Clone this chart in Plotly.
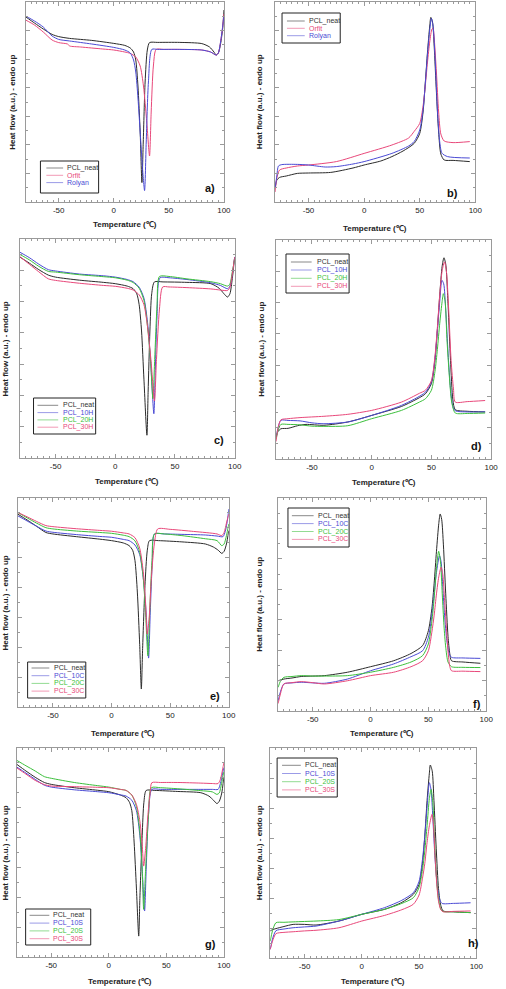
import plotly.graph_objects as go

W, H = 506, 989

# ---------------- data: (temperature degC, heat flow a.u. normalised 0-100) ----------------
# a) cooling, commercial
a_neat = [(-80,92.6),(-72,89.5),(-64,86.5),(-56,83.8),(-50,82.7),(-40,81.8),(-20,80.8),(0,79.3),(10,78.3),(15,77),(18,75),(20,71),(22,58),(24,35),(25.6,9.7),(26.8,30),(28.5,60),(30.5,76),(32.5,79.7),(40,79.8),(60,79.8),(80,79.2),(87,77.5),(91,75),(93,73.5),(95,74.5),(97,79),(99,87),(100,96)]
a_orfit = [(-80,91),(-72,88.5),(-64,85),(-56,81),(-50,79.7),(-42,79),(-40,78),(-30,77.5),(-10,76.5),(0,76),(10,75),(15,74.3),(20,72.5),(24,68),(27,58),(30,40),(32.5,23),(34,45),(36,68),(38.5,76.3),(45,76.3),(60,76.3),(80,76),(88,75),(93,73.5),(95,74.5),(97,80),(99,88),(100,94)]
a_rolyan = [(-80,93),(-72,90.5),(-64,87.5),(-56,83),(-50,81.3),(-40,80.5),(-20,79),(0,77.3),(10,76),(15,74.5),(18,71),(20,65),(22,52),(24,35),(26,18),(28,5.7),(29.5,30),(31.5,60),(34.6,76.3),(40,76.3),(60,76.3),(80,76),(88,75),(93,73.5),(95,74.5),(97,80),(99,88),(100,93)]

# b) heating, commercial
b_neat = [(-80,7),(-78.5,11),(-76,12.3),(-70,13),(-60,14.3),(-50,14.5),(-30,14.8),(-10,17),(0,18.5),(15,20.5),(25,22.7),(35,25.5),(45,29.3),(50,34.3),(53,45),(55,59.5),(57,75),(59,88),(60,92.3),(61.5,90),(63,78),(65,55),(67,35),(69,24),(72,21),(80,20.8),(95,20.2)]
b_orfit = [(-80,5),(-78.5,12),(-76,16),(-70,17),(-60,18),(-50,18.5),(-25,20.2),(0,24.3),(25,28.5),(40,32),(45,35.3),(50,39.3),(53,48),(55,58),(57,70),(59,80),(61,86.5),(62,86.8),(63,82),(65,65),(67,45),(69,34),(72,30.5),(80,29.7),(95,30.2)]
b_rolyan = [(-80,7),(-78.5,13),(-77,18),(-74,18.7),(-60,18.8),(-50,18.5),(-35,17.5),(-25,17.7),(-10,19),(0,20.2),(25,24.3),(40,28),(45,30.2),(50,36),(53,46),(55,59),(57,74),(59,86),(60.5,91.8),(62,88),(64,70),(66,45),(68,30),(70,24.4),(75,22.7),(95,22)]

# c) cooling, H series
c_neat = [(-80,91.8),(-72,89),(-64,86),(-56,83.5),(-50,82.6),(-30,81.2),(-10,80.2),(0,79.6),(10,78.5),(15,77.3),(18,75),(20,70),(22,58),(24,36),(26.5,10.4),(27.5,30),(29,58),(30.5,75),(32.8,80.4),(40,80.4),(60,80.2),(80,79.6),(87,77.5),(91,75),(94,73.5),(96,75),(98,82),(100,91.8)]
c_10h = [(-80,94),(-72,91.5),(-64,88.5),(-56,86),(-50,85.4),(-30,84),(-10,83.2),(0,82.6),(10,81.5),(15,80.5),(20,78),(24,73),(27,62),(29.5,45),(32.3,20.2),(33.5,40),(35,65),(37.5,82.3),(45,82.3),(60,81.5),(80,80),(88,78.8),(94,77.3),(96,78.5),(98,84),(100,91.8)]
c_20h = [(-80,93),(-72,90.5),(-64,87.5),(-56,85.2),(-50,84.9),(-30,83.7),(-10,82.8),(0,82.3),(10,81.2),(15,80.1),(20,77.5),(24,72),(27,60),(29.5,45),(31.5,27.1),(33,45),(35,70),(37,82.9),(45,82.9),(60,81.8),(80,80.5),(88,79.6),(94,78.5),(96,79.5),(98,85),(100,91)]
c_30h = [(-80,92),(-72,88.5),(-64,85),(-56,81.8),(-50,81.1),(-30,79.8),(-10,78.8),(0,78.4),(10,77.5),(15,76.7),(20,74.5),(24,70),(27,60),(30,44),(32.8,26),(34.5,45),(37,68),(39.7,78.1),(45,78.1),(60,77.8),(80,77.2),(88,76.7),(94,76.5),(96,78),(98,84),(100,91.8)]

# d) heating, H series
d_neat = [(-80,10),(-78.5,12.5),(-76,13.8),(-70,14),(-62,15.2),(-55,15.8),(-40,15.4),(-20,16.9),(0,19.9),(25,24),(40,28),(45,29.8),(50,34.4),(53,45),(55,58.8),(57,75),(59,88),(60.5,91.9),(62,89),(64,70),(66,45),(68,27),(70,22.5),(80,21.8),(95,21.5)]
d_10h = [(-80,10),(-78.5,14),(-76,17.7),(-70,17.6),(-60,17.4),(-50,16.5),(-40,16.1),(-20,16.9),(0,19.9),(25,24.5),(45,30.5),(50,35.3),(53,46),(55,58.8),(57,72),(58.8,81.6),(60.3,80),(62,68),(64,48),(66,32),(68,24),(70,22),(80,21.5),(95,21.5)]
d_20h = [(-80,9),(-78.5,13),(-76,15.8),(-70,15.8),(-60,15.6),(-50,15),(-40,14.9),(-20,15.2),(0,18.4),(25,22.2),(40,26),(45,27.5),(50,31.4),(53,40),(55,50),(57,62),(59,72),(60,75.5),(61.5,72),(63,55),(65,38),(67,26),(70,21),(80,20.8),(95,21)]
d_30h = [(-80,8),(-78.5,14),(-76,17.9),(-70,18.4),(-60,18.9),(-40,19.5),(-20,20.4),(0,22.2),(25,26),(40,30),(45,31.4),(50,35.8),(53,47),(55,60),(57,75),(59,86),(61,90),(62.5,86),(64.5,68),(66.5,45),(68.5,32),(70,26),(80,26.2),(95,26.7)]

# e) cooling, C series
e_neat = [(-80,92.3),(-72,89.5),(-64,86.5),(-56,83.5),(-50,82.8),(-30,81.5),(-10,80.3),(0,79.6),(10,78.5),(15,77.2),(18,75),(20,70),(22,55),(24,30),(25.4,8.6),(26.5,28),(28.5,58),(30.5,75),(32.4,79.6),(40,79.6),(60,79),(80,78),(87,76.5),(91,75),(94,73.5),(96,74.5),(98,78),(100,84.4)]
e_10c = [(-80,91.5),(-72,89),(-64,86.5),(-56,84.2),(-50,83.6),(-30,82.5),(-10,81.6),(0,81.2),(10,80.2),(15,79.6),(20,77.5),(24,73),(27,62),(29.5,45),(31.6,23.4),(33,45),(34.8,70),(36.6,82.8),(45,82.8),(60,82.6),(80,82.3),(90,81.8),(95,81.5),(97,84),(99,90),(100,94.7)]
e_20c = [(-80,93.1),(-72,90.5),(-64,88),(-56,85.8),(-50,85.2),(-30,84.2),(-10,83.5),(0,83.1),(10,82.2),(15,81.5),(20,79.5),(24,74),(27,62),(29,45),(31,24.5),(32.5,45),(34.5,70),(36.6,82.8),(45,82.8),(60,82),(80,80.5),(90,79.6),(94,77.2),(96,78),(98,82),(100,87.6)]
e_30c = [(-80,93.1),(-72,91),(-64,88.8),(-56,86.8),(-50,86.3),(-30,85.3),(-10,84.5),(0,84.1),(10,83.3),(15,82.8),(20,81),(24,76),(27,65),(29,50),(30.4,34.9),(32,42),(34,62),(36.5,78),(39.4,85.2),(50,85),(70,84),(90,82.8),(94,82),(96,83.5),(98,88),(100,92.3)]

# f) heating, C series
f_neat = [(-80,14.2),(-75,15),(-68,15.5),(-60,16.2),(-50,16.4),(-40,16.6),(-20,18.2),(0,20.8),(20,23.6),(35,27),(45,30.7),(50,37.7),(53,48),(55,60),(57,75),(59,88),(60.2,92.5),(61.5,90),(63,78),(65,55),(67,35),(68.5,27),(70,23.6),(80,23),(95,22.4)]
f_10c = [(-80,4.8),(-78,9),(-75,12.7),(-68,13.2),(-60,13.5),(-50,13.2),(-40,13),(-20,15),(0,18.9),(20,22.1),(35,25.5),(45,28.3),(50,34.6),(53,45),(55,55),(57,65),(59.6,72.9),(61,70),(62.5,58),(64,45),(66,33),(68,27),(70,25.2),(80,24.9),(95,24.7)]
f_20c = [(-80,11.1),(-78,14),(-75,15.8),(-68,16.2),(-60,16.6),(-50,16.4),(-40,16.4),(-20,16.6),(0,18.2),(20,20.5),(35,23),(45,26),(50,31.5),(53,42),(55,53),(57,67),(58.9,75),(60.5,70),(62,55),(63.5,40),(65,30),(67,23),(70,20.8),(80,20.5),(95,20.4)]
f_30c = [(-80,3.5),(-78,8),(-75,12.7),(-68,13.3),(-60,13.8),(-50,13.3),(-40,12.7),(-20,14.2),(0,16.6),(20,18.2),(35,20.8),(45,23.6),(50,28.3),(53,37),(55,45),(57,55),(59,63),(61,67.5),(62.5,64),(64,52),(65.5,40),(67,28),(68.5,21),(70,18.9),(80,18.7),(95,18.5)]

# g) cooling, S series
g_neat = [(-80,92.2),(-72,89),(-64,86),(-56,83.5),(-50,82.6),(-30,81),(-10,79.8),(0,79.1),(10,77.5),(15,76.2),(18,74),(20,70),(22,55),(24,33),(26,10),(27,28),(29,58),(30.5,74),(32.5,79.7),(40,79.7),(60,79.2),(80,78.6),(87,77),(91,75),(94,73.4),(96,74.5),(98,78),(100,85.8)]
g_10s = [(-80,90.9),(-72,88),(-64,85),(-56,82.2),(-50,81.3),(-30,80),(-10,79.1),(0,78.6),(10,77.6),(15,77),(20,75),(24,70),(27,58),(29,42),(31.1,22),(32.5,42),(34.5,68),(37.4,80.2),(45,80.2),(60,80.2),(80,80.2),(90,80.2),(95,80.2),(97,83),(99,88),(100,90.6)]
g_20s = [(-80,94.1),(-72,91.5),(-64,89),(-56,86.3),(-50,85.5),(-30,83.5),(-10,82),(0,81.3),(10,80.2),(15,79.7),(20,77.5),(24,72),(27,60),(29,42),(30.3,22.8),(32,42),(34.5,68),(37,81),(45,81),(60,80.5),(80,79.6),(90,79),(94,77.8),(96,78.5),(98,83),(100,88.6)]
g_30s = [(-80,90.5),(-72,87.5),(-64,84.5),(-56,82.5),(-50,81.8),(-30,81.5),(-10,81.2),(0,81),(10,80.2),(15,79.7),(20,77.5),(24,73),(27,65),(29,54),(30.3,43.5),(32,52),(34,68),(36,79),(37.4,83.4),(45,83.5),(60,83.5),(80,83.2),(90,83),(95,83),(97,85),(99,90),(100,93)]

# h) heating, S series
h_neat = [(-80,12.9),(-78,13.5),(-75,14),(-68,15),(-60,16),(-50,16),(-40,15.7),(-20,17.6),(0,20.8),(20,23.2),(35,26.5),(45,30.3),(50,35),(53,45),(55,58),(57,75),(59,88),(59.8,91.9),(61.5,89),(63,75),(65,52),(67,33),(69,25),(71,22.4),(80,22),(95,21.6)]
h_10s = [(-80,4.1),(-78,9),(-75,13),(-68,13.8),(-60,14.4),(-50,14.8),(-40,15.2),(-20,17.6),(0,20.8),(20,24),(35,27.5),(45,31.1),(50,36.5),(53,47),(55,58),(57,72),(59,83.5),(60.5,80),(62,67),(64,47),(66,34),(68,28),(70,26),(80,26),(95,26.3)]
h_20s = [(-80,8),(-78,13),(-75,16.8),(-68,17),(-60,17.2),(-50,17.4),(-40,17.6),(-20,18.3),(0,20.8),(20,23.2),(35,26),(45,28.7),(50,33.6),(53,42),(55,51),(57,63),(59,76),(60.5,80.3),(62,74),(63.5,56),(65,40),(67,28),(70,22.4),(80,22),(95,21.6)]
h_30s = [(-80,4.1),(-78,8),(-75,11.6),(-68,12.2),(-60,12.5),(-50,12.9),(-40,13.2),(-20,14.4),(0,17.6),(20,20.3),(35,23),(45,25.6),(50,30),(53,38),(55,45),(57,55),(59,63),(61.3,68.4),(62.5,64),(64,48),(65.5,35),(67,27),(69,23),(71,22),(80,22.2),(95,22.4)]

x_tickvals = [-50, 0, 50, 100]
x_ticktext = ["-50", "0", "50", "100"]
x_title = "Temperature (\u2103)"
y_title = "Heat flow (a.u.) - endo up"

NEAT = "#2b2b2b"; BLUE = "#4a4ad4"; GREEN = "#3cbf3c"; PINK = "#e8487a"
TXT_NEAT = "#333333"

# ---------------- layout of panels (pixel geometry) ----------------
panels = [
    dict(letter="a)", box=(26, 2, 227, 202),
         series=[("PCL_neat", a_neat, NEAT), ("Orfit", a_orfit, PINK), ("Rolyan", a_rolyan, BLUE)],
         leg=(41, 161, 100, 193), rows=[168, 175.3, 182.6], lx=(47, 64), tx=66,
         lpos=(213, 188), xt_y=225, yt_x=12),
    dict(letter="b)", box=(279, 2, 482, 202),
         series=[("PCL_neat", b_neat, NEAT), ("Orfit", b_orfit, PINK), ("Rolyan", b_rolyan, BLUE)],
         leg=(286, 13, 345, 43), rows=[21, 28.3, 35.7], lx=(291, 309), tx=311,
         lpos=(459, 193), xt_y=228, yt_x=263),
    dict(letter="c)", box=(20, 239, 238, 458),
         series=[("PCL_neat", c_neat, NEAT), ("PCL_10H", c_10h, BLUE), ("PCL_20H", c_20h, GREEN), ("PCL_30H", c_30h, PINK)],
         leg=(34, 398, 97, 434), rows=[405.3, 412.6, 419.9, 427.2], lx=(38, 59), tx=62,
         lpos=(222, 440), xt_y=481, yt_x=6),
    dict(letter="d)", box=(280, 240, 498, 459),
         series=[("PCL_neat", d_neat, NEAT), ("PCL_10H", d_10h, BLUE), ("PCL_20H", d_20h, GREEN), ("PCL_30H", d_30h, PINK)],
         leg=(290, 254, 354, 293), rows=[262, 270, 278.3, 286.3], lx=(295, 316), tx=319,
         lpos=(483, 446), xt_y=482, yt_x=265),
    dict(letter="e)", box=(18, 498, 232, 707),
         series=[("PCL_neat", e_neat, NEAT), ("PCL_10C", e_10c, BLUE), ("PCL_20C", e_20c, GREEN), ("PCL_30C", e_30c, PINK)],
         leg=(28, 662, 87, 698), rows=[668, 675.7, 683.4, 691.1], lx=(32, 50), tx=53,
         lpos=(218, 696), xt_y=733, yt_x=6),
    dict(letter="f)", box=(282, 498, 493, 711),
         series=[("PCL_neat", f_neat, NEAT), ("PCL_10C", f_10c, BLUE), ("PCL_20C", f_20c, GREEN), ("PCL_30C", f_30c, PINK)],
         leg=(292, 508, 354, 547), rows=[515.7, 523.6, 531.5, 539.4], lx=(296, 318), tx=320,
         lpos=(484, 704), xt_y=733, yt_x=263),
    dict(letter="g)", box=(17, 748, 227, 957),
         series=[("PCL_neat", g_neat, NEAT), ("PCL_10S", g_10s, BLUE), ("PCL_20S", g_20s, GREEN), ("PCL_30S", g_30s, PINK)],
         leg=(26, 909, 92, 945), rows=[915.3, 923.1, 930.9, 938.7], lx=(30, 50), tx=52,
         lpos=(213, 944), xt_y=981, yt_x=6),
    dict(letter="h)", box=(274, 748, 483, 958),
         series=[("PCL_neat", h_neat, NEAT), ("PCL_10S", h_10s, BLUE), ("PCL_20S", h_20s, GREEN), ("PCL_30S", h_30s, PINK)],
         leg=(281, 758, 342, 797), rows=[765.3, 773.5, 781.7, 789.9], lx=(286, 305), tx=307,
         lpos=(480, 943), xt_y=981, yt_x=263),
]

def px(x):
    return x / W

def py(y):
    return 1 - y / H

FONT = "Liberation Sans, Arial, sans-serif"
AXC = "#9a9a9a"

fig = go.Figure()
shapes = []
annotations = []
layout_axes = {}

for i, p in enumerate(panels):
    n = "" if i == 0 else str(i + 1)
    x0, y0, x1, y1 = p["box"]
    for name, pts, col in p["series"]:
        fig.add_trace(go.Scatter(
            x=[t for t, v in pts], y=[v for t, v in pts],
            mode="lines", name=name, showlegend=False,
            line=dict(color=col, width=1, shape="spline", smoothing=0.7),
            xaxis="x" + n, yaxis="y" + n, hoverinfo="skip"))
    layout_axes["xaxis" + n] = dict(
        domain=[px(x0), px(x1)], anchor="y" + n, range=[-80, 100],
        showline=True, mirror="ticks", linecolor=AXC, linewidth=1,
        ticks="inside", ticklen=4, tickcolor=AXC, tickwidth=1,
        tickmode="array", tickvals=x_tickvals, ticktext=x_ticktext,
        minor=dict(ticks="inside", ticklen=2, tickcolor=AXC, dtick=5, tick0=0),
        showgrid=False, zeroline=False,
        tickfont=dict(size=8, color="#222", family=FONT))
    layout_axes["yaxis" + n] = dict(
        domain=[py(y1), py(y0)], anchor="x" + n, range=[0, 100],
        showline=True, mirror="ticks", linecolor=AXC, linewidth=1,
        ticks="inside", ticklen=4, tickcolor=AXC, tickwidth=1,
        tickmode="linear", tick0=0, dtick=100 / 7,
        minor=dict(ticks="inside", ticklen=2, tickcolor=AXC, dtick=100 / 14),
        showgrid=False, zeroline=False, showticklabels=False)

    # axis titles
    annotations.append(dict(text="<b>" + x_title + "</b>", x=px((x0 + x1) / 2), y=py(p["xt_y"]),
                            xref="paper", yref="paper", showarrow=False, xanchor="center", yanchor="middle",
                            font=dict(size=8, color="#222", family=FONT)))
    annotations.append(dict(text="<b>" + y_title + "</b>", x=px(p["yt_x"]), y=py((y0 + y1) / 2),
                            xref="paper", yref="paper", showarrow=False, textangle=-90,
                            xanchor="center", yanchor="middle",
                            font=dict(size=8, color="#222", family=FONT)))
    # panel letter
    annotations.append(dict(text="<b>" + p["letter"] + "</b>", x=px(p["lpos"][0]), y=py(p["lpos"][1]),
                            xref="paper", yref="paper", showarrow=False, xanchor="center", yanchor="middle",
                            font=dict(size=11, color="#111", family=FONT)))
    # legend box
    lx0, ly0, lx1, ly1 = p["leg"]
    shapes.append(dict(type="rect", xref="paper", yref="paper", x0=px(lx0), x1=px(lx1), y0=py(ly1), y1=py(ly0),
                       line=dict(color="#222", width=1), fillcolor="white", layer="above"))
    for (name, pts, col), ry in zip(p["series"], p["rows"]):
        shapes.append(dict(type="line", xref="paper", yref="paper", x0=px(p["lx"][0]), x1=px(p["lx"][1]),
                           y0=py(ry), y1=py(ry), line=dict(color=col, width=1), opacity=0.55, layer="above"))
        tcol = TXT_NEAT if name == "PCL_neat" else col
        annotations.append(dict(text=name, x=px(p["tx"]), y=py(ry), xref="paper", yref="paper",
                                showarrow=False, xanchor="left", yanchor="middle",
                                font=dict(size=7, color=tcol, family=FONT)))

fig.update_layout(
    width=W, height=H, margin=dict(l=0, r=0, t=0, b=0),
    paper_bgcolor="white", plot_bgcolor="white",
    showlegend=False, shapes=shapes, annotations=annotations,
    font=dict(family=FONT), **layout_axes)

fig.write_html("out.html",
               config={"displayModeBar": False},
               post_script="document.body.style.margin='0';document.body.style.overflow='hidden';")
